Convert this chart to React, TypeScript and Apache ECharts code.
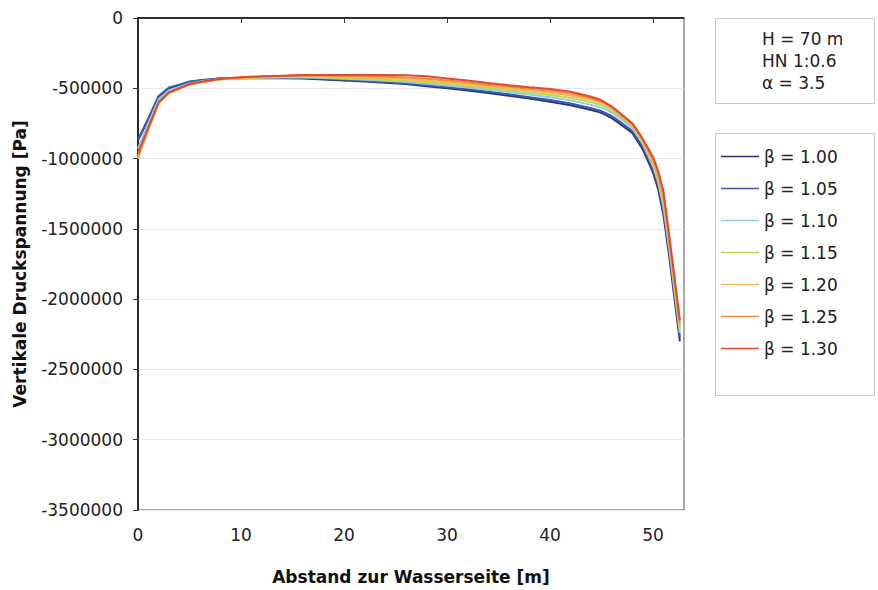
import React, { useEffect, useRef } from "react";
import * as echarts from "echarts";

const xValues = [0, 1, 2, 3, 4, 5, 6, 8, 10, 12, 14, 16, 18, 20, 22, 24, 26, 28, 30, 32, 34, 36, 38, 40, 42, 44, 45, 46, 47, 48, 49, 50, 50.5, 51, 51.5, 52, 52.6];

const seriesNames = ["β = 1.00", "β = 1.05", "β = 1.10", "β = 1.15", "β = 1.20", "β = 1.25", "β = 1.30"];
const seriesColors = ["#2e3182", "#3b5ba8", "#8fcbea", "#c3d64a", "#f7b85a", "#f08c3a", "#e04a2f"];

const beta100 = [-870000, -720000, -560000, -500000, -478000, -455000, -445000, -430000, -428000, -428000, -428000, -430000, -438000, -445000, -452000, -460000, -470000, -485000, -500000, -515000, -533000, -553000, -573000, -595000, -620000, -655000, -675000, -712000, -765000, -820000, -935000, -1100000, -1220000, -1400000, -1660000, -1950000, -2300000];
const beta105 = [-865000, -715000, -555000, -495000, -475000, -452000, -442000, -428000, -426000, -425000, -425000, -427000, -433000, -440000, -447000, -455000, -464000, -478000, -492000, -507000, -524000, -543000, -563000, -584000, -608000, -642000, -662000, -698000, -750000, -805000, -915000, -1080000, -1195000, -1370000, -1630000, -1920000, -2270000];
const beta110 = [-930000, -750000, -580000, -515000, -490000, -465000, -452000, -434000, -428000, -425000, -423000, -423000, -427000, -433000, -440000, -447000, -455000, -467000, -480000, -494000, -510000, -527000, -545000, -564000, -586000, -618000, -638000, -672000, -725000, -785000, -895000, -1055000, -1170000, -1340000, -1600000, -1890000, -2240000];
const beta115 = [-990000, -790000, -600000, -530000, -500000, -472000, -458000, -437000, -428000, -423000, -420000, -419000, -421000, -427000, -433000, -439000, -447000, -457000, -470000, -483000, -498000, -514000, -530000, -547000, -568000, -600000, -620000, -656000, -710000, -772000, -882000, -1040000, -1150000, -1310000, -1575000, -1865000, -2215000];
const beta120 = [-1000000, -795000, -605000, -533000, -503000, -474000, -459000, -436000, -426000, -420000, -416000, -414000, -415000, -419000, -424000, -429000, -436000, -446000, -458000, -471000, -486000, -501000, -516000, -531000, -551000, -583000, -604000, -642000, -700000, -762000, -872000, -1025000, -1130000, -1285000, -1550000, -1840000, -2195000];
const beta125 = [-985000, -790000, -603000, -532000, -502000, -472000, -457000, -434000, -424000, -417000, -412000, -409000, -409000, -412000, -415000, -418000, -423000, -432000, -445000, -459000, -474000, -489000, -504000, -518000, -538000, -571000, -594000, -636000, -695000, -756000, -866000, -1008000, -1110000, -1258000, -1530000, -1820000, -2170000];
const beta130 = [-960000, -780000, -600000, -530000, -500000, -470000, -455000, -432000, -422000, -415000, -410000, -405000, -405000, -405000, -405000, -405000, -408000, -415000, -430000, -445000, -462000, -478000, -492000, -505000, -525000, -560000, -585000, -630000, -690000, -750000, -860000, -990000, -1090000, -1230000, -1510000, -1800000, -2150000];

const allSeries = [beta100, beta105, beta110, beta115, beta120, beta125, beta130];
const infoLines = ["H = 70 m", "HN 1:0.6", "α = 3.5"];

export default function App() {
  const ref = useRef<HTMLDivElement>(null);
  useEffect(() => {
    if (!ref.current) return;
    const chart = echarts.init(ref.current, undefined, { renderer: "svg" });
    const font = "'DejaVu Sans', 'Liberation Sans', Arial, sans-serif";
    chart.setOption({
      animation: false,
      backgroundColor: "#ffffff",
      grid: {
        left: 138,
        top: 18,
        right: 194,
        bottom: 78,
        show: true,
        borderColor: "#555",
        borderWidth: 1,
      },
      xAxis: {
        type: "value",
        min: 0,
        max: 53,
        interval: 10,
        name: "Abstand zur Wasserseite [m]",
        nameLocation: "middle",
        nameGap: 58,
        nameTextStyle: { fontFamily: font, fontWeight: "bold", fontSize: 17, color: "#111" },
        axisLine: { show: true, lineStyle: { color: "#000", width: 1.5 } },
        axisTick: { show: true, length: 5, lineStyle: { color: "#333" } },
        axisLabel: {
          fontFamily: font,
          fontSize: 17,
          color: "#222",
          margin: 16,
          showMaxLabel: false,
          formatter: (v: number) => (v % 10 === 0 ? String(v) : ""),
        },
        splitLine: { show: false },
      },
      yAxis: {
        type: "value",
        min: -3500000,
        max: 0,
        interval: 500000,
        name: "Vertikale Druckspannung [Pa]",
        nameLocation: "middle",
        nameGap: 110,
        nameTextStyle: { fontFamily: font, fontWeight: "bold", fontSize: 17, color: "#111" },
        axisLine: { show: true, lineStyle: { color: "#000", width: 1.5 } },
        axisTick: { show: true, length: 5, lineStyle: { color: "#333" } },
        axisLabel: {
          fontFamily: font,
          fontSize: 17,
          color: "#222",
          margin: 15,
          formatter: (v: number) => String(v),
        },
        splitLine: { show: true, lineStyle: { color: "#e8e8e8", width: 1 } },
      },
      legend: {
        orient: "vertical",
        left: 716,
        top: 142,
        icon: "rect",
        itemWidth: 38,
        itemHeight: 1.5,
        itemGap: 13,
        textStyle: { fontFamily: font, fontSize: 17, color: "#222", lineHeight: 19 },
        itemTextGap: 4,
        data: seriesNames,
      },
      graphic: [
        {
          type: "rect",
          shape: { x: 715.5, y: 18.5, width: 159, height: 85 },
          style: { fill: "#fff", stroke: "#c8c8c8", lineWidth: 1 },
          z: 0,
        },
        {
          type: "rect",
          shape: { x: 715.5, y: 133.5, width: 159, height: 262 },
          style: { fill: "#fff", stroke: "#c8c8c8", lineWidth: 1 },
          z: 0,
        },
        ...infoLines.map((t, i) => ({
          type: "text",
          left: 762,
          top: 30 + i * 22,
          style: { text: t, fontFamily: font, fontSize: 17, fill: "#222" },
          z: 10,
        })),
      ],
      series: allSeries.map((vals, i) => ({
        name: seriesNames[i],
        type: "line",
        symbol: "none",
        smooth: false,
        color: seriesColors[i],
        lineStyle: { width: 2, color: seriesColors[i] },
        data: xValues.map((x, j) => [x, vals[j]]),
        z: 2 + i,
      })),
    });
    return () => chart.dispose();
  }, []);
  return (
    <div
      ref={ref}
      style={{ position: "fixed", left: 0, top: 0, width: 878, height: 590 }}
    />
  );
}
